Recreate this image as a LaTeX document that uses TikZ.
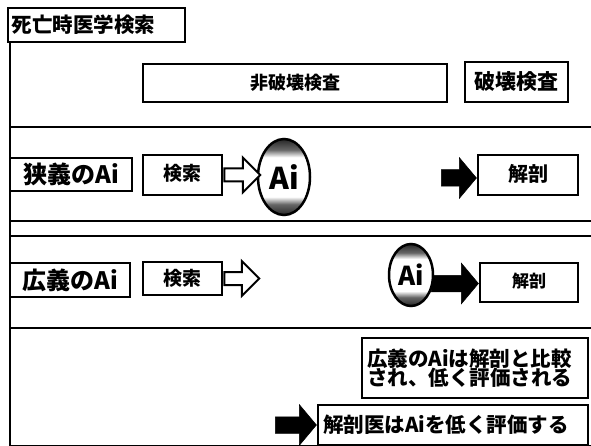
\documentclass[tikz,border=0pt]{standalone}
\usepackage{fontspec}
\setmainfont{Noto Sans CJK JP}
\usetikzlibrary{shapes.arrows,shapes.geometric,calc}
\newcommand{\fsz}[1]{\fontsize{#1}{#1}\selectfont}
\pgfdeclareverticalshading{aicap}{100bp}{color(0bp)=(black!85); color(25bp)=(black!85); color(32bp)=(black!60); color(37bp)=(white); color(63bp)=(white); color(68bp)=(black!60); color(75bp)=(black!85); color(100bp)=(black!85)}
\begin{document}
\begin{tikzpicture}[x=1pt,y=-1pt,font=\bfseries,
  box/.style={draw,line width=2.5pt,inner sep=0pt,fill=white},
  rule/.style={line width=2pt},
  hollowarr/.style={single arrow,draw,line width=2pt,fill=white,inner xsep=0pt,inner ysep=5.5pt,single arrow head extend=11pt},
  blackarr/.style={single arrow,draw,fill=black,line width=0.5pt,inner xsep=0pt,inner ysep=8pt,single arrow head extend=12pt,single arrow tip angle=100},
  aiball/.style={ellipse,draw,line width=2.5pt,inner sep=0pt,shading=aicap}
]
\useasboundingbox (0,0) rectangle (591,446);
% frame lines
\draw[rule] (10,42) -- (10,446);
\draw[rule] (10,127) -- (591,127);
\draw[rule] (10,221) -- (591,221);
\draw[rule] (10,236) -- (591,236);
\draw[rule] (10,328) -- (591,328);
\draw[line width=1pt] (10,445) -- (591,445);
% title
\node[box,minimum width=177pt,minimum height=34pt,text width=170pt,align=left,font=\bfseries\fsz{20.5}] (title) at (96.5,25) {死亡時医学検索};
% row 1
\node[box,minimum width=304pt,minimum height=38pt,font=\bfseries\fsz{18}] (ndt) at (295,83) {非破壊検査};
\node[box,minimum width=103pt,minimum height=40pt,font=\bfseries\fsz{21}] (dt) at (516.5,82) {破壊検査};
% row 2
\node[box,minimum width=122pt,minimum height=33pt,font=\bfseries\fsz{24}] (narrow) at (71,174.5) {狭義のAi};
\node[box,minimum width=79pt,minimum height=40pt,font=\bfseries\fsz{19}] (s1) at (182.5,175) {\raisebox{6pt}{検索}};
\node[aiball,minimum width=52pt,minimum height=76pt,font=\bfseries\fsz{30}] (ai1) at (284,177) {Ai};
\node[hollowarr,minimum height=36pt,anchor=tail] (h1) at (s1.east) {};
\node[box,minimum width=100pt,minimum height=40pt,font=\bfseries\fsz{20}] (a1) at (528,175) {\raisebox{4pt}{解剖}};
\node[blackarr,minimum height=35pt,anchor=tip] (b1) at ([yshift=-3pt]a1.west) {};
% row 3
\node[box,minimum width=120pt,minimum height=34pt,font=\bfseries\fsz{24}] (broad) at (70,280) {広義のAi};
\node[box,minimum width=79pt,minimum height=33pt,font=\bfseries\fsz{19}] (s2) at (182.5,278.5) {検索};
\node[hollowarr,minimum height=35pt,anchor=tail] (h2) at (s2.east) {};
\node[box,minimum width=98pt,minimum height=39pt,font=\bfseries\fsz{17}] (a2) at (529,282.5) {\raisebox{4pt}{解剖}};
\node[blackarr,minimum height=47pt,anchor=tip] (b2) at ([yshift=-1pt]a2.west) {};
\node[aiball,minimum width=44pt,minimum height=62pt,font=\bfseries\fsz{26}] (ai2) at (411,275) {Ai};
% row 4
\node[box,minimum width=226pt,minimum height=60pt,text width=216pt,align=left,font=\bfseries\fsz{20.5}] (c1) at (475,368)
  {広義のAiは解剖と比較\\[-1pt]され、低く評価される};
\node[box,minimum width=270pt,minimum height=40pt,text width=260pt,align=left,font=\bfseries\fsz{20.5}] (c2) at (453,425) {解剖医はAiを低く評価する};
\node[blackarr,minimum height=41pt,anchor=tip] (b3) at (c2.west) {};
\end{tikzpicture}
\end{document}
